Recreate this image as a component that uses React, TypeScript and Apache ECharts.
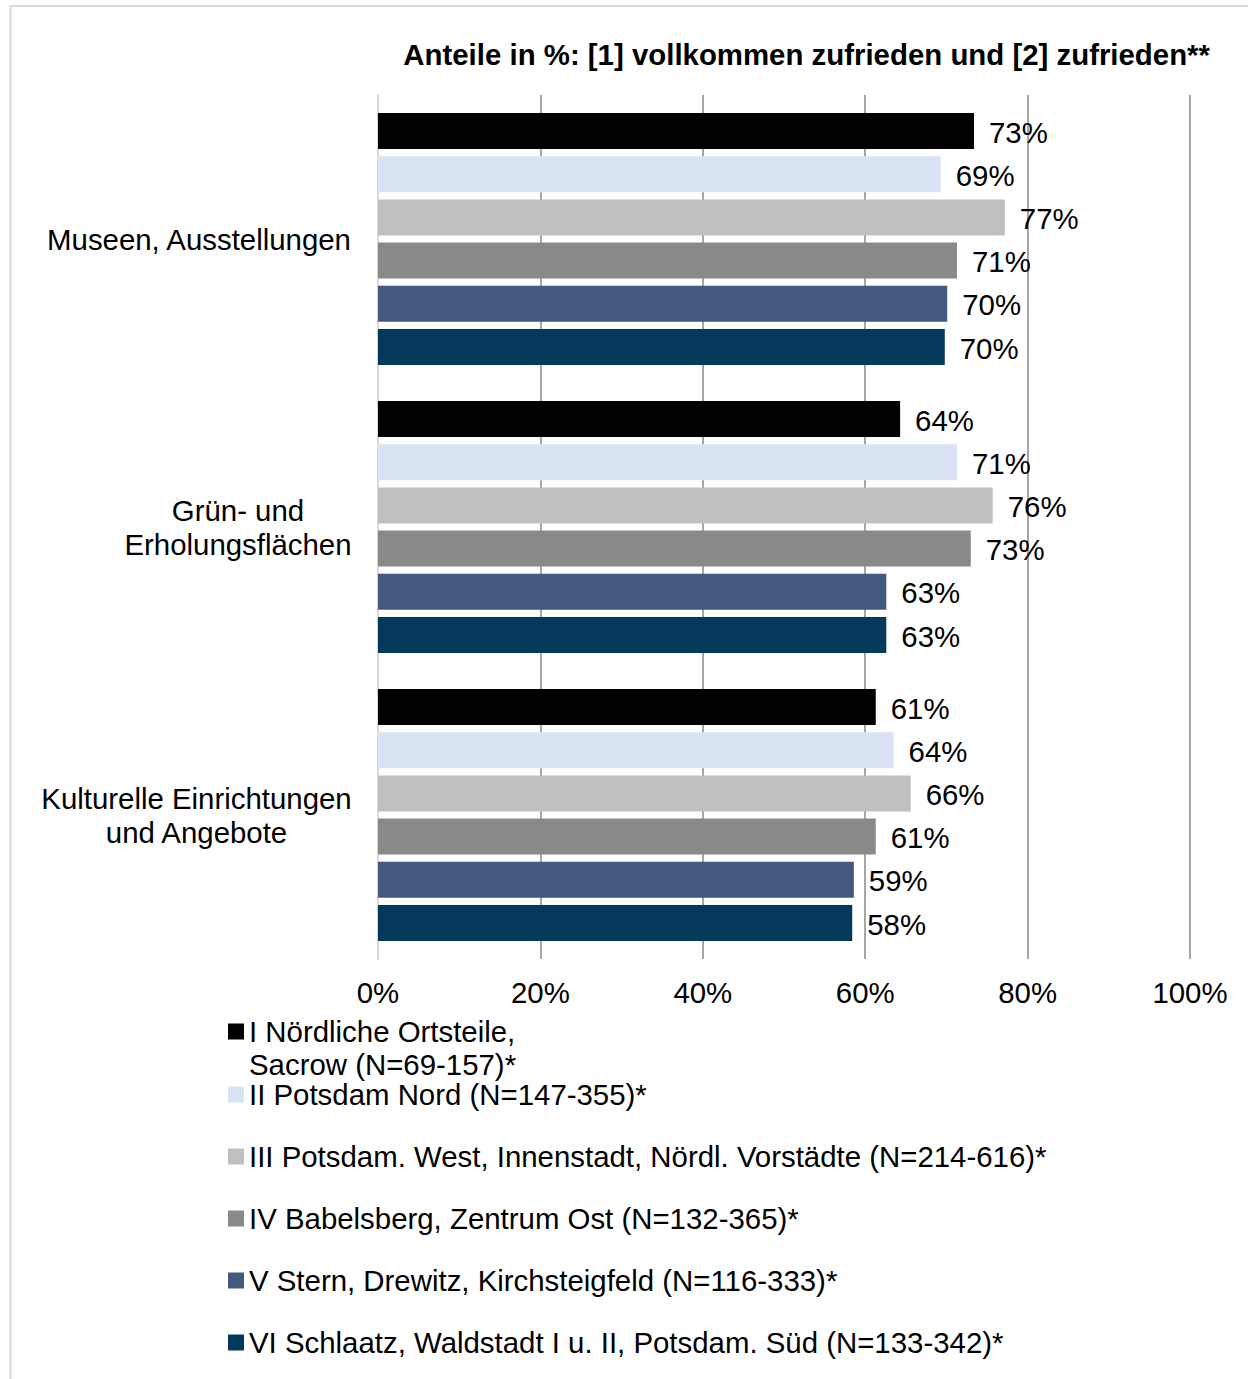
import React, { useEffect, useRef } from "react";
import * as echarts from "echarts";

const categories = ["Museen, Ausstellungen", "Grün- und\nErholungsflächen", "Kulturelle Einrichtungen\nund Angebote"];
const seriesNames = [
  "I Nördliche Ortsteile, Sacrow (N=69-157)*",
  "II Potsdam Nord (N=147-355)*",
  "III Potsdam. West, Innenstadt, Nördl. Vorstädte (N=214-616)*",
  "IV Babelsberg, Zentrum Ost (N=132-365)*",
  "V Stern, Drewitz, Kirchsteigfeld (N=116-333)*",
  "VI Schlaatz, Waldstadt I u. II, Potsdam. Süd (N=133-342)*",
];
const s1 = [73.4, 64.3, 61.3];
const s2 = [69.3, 71.3, 63.5];
const s3 = [77.2, 75.7, 65.6];
const s4 = [71.3, 73.0, 61.3];
const s5 = [70.1, 62.6, 58.6];
const s6 = [69.8, 62.6, 58.4];
const seriesValues = [s1, s2, s3, s4, s5, s6];
const colors = ["#000000", "#dae3f3", "#bfbfbf", "#898989", "#44597f", "#03395a"];
const title = "Anteile in %: [1] vollkommen zufrieden und [2] zufrieden**";
const firstLegendLine1 = "I Nördliche Ortsteile,";
const firstLegendLine2 = "Sacrow (N=69-157)*";

const FONT = '"Liberation Sans", Arial, Helvetica, sans-serif';
const FS = 29.4;

function measure(text: string): number {
  const c = document.createElement("canvas");
  const ctx = c.getContext("2d");
  if (!ctx) return text.length * FS * 0.5;
  ctx.font = `${FS}px ${FONT}`;
  return ctx.measureText(text).width;
}

export default function App() {
  const ref = useRef<HTMLDivElement>(null);
  useEffect(() => {
    if (!ref.current) return;
    const chart = echarts.init(ref.current, undefined, { renderer: "svg" });

    const rich: Record<string, any> = {};
    categories.forEach((c, i) => {
      const w = Math.ceil(Math.max(...c.split("\n").map(measure)));
      rich["c" + i] = { width: w, align: "center", fontSize: FS, fontFamily: FONT, color: "#000", lineHeight: 34 };
    });

    const legendCenters = [1031, 1094, 1156, 1218, 1280, 1342];
    const legends = seriesNames.map((n, i) => ({
      show: true,
      orient: "vertical",
      left: 228,
      top: legendCenters[i] - 14,
      padding: 0,
      itemWidth: 16,
      itemHeight: 16,
      icon: "rect",
      selectedMode: false,
      data: [n],
      formatter: (name: string) => (i === 0 ? firstLegendLine1 : name),
      textStyle: { fontSize: FS, fontFamily: FONT, color: "#000", lineHeight: 28 },
    }));

    chart.setOption({
      animation: false,
      backgroundColor: "#fff",
      color: colors,
      title: {
        text: title,
        right: 38,
        top: 40,
        padding: 0,
        textStyle: { fontSize: FS, fontWeight: "bold", fontFamily: FONT, color: "#000" },
      },
      grid: { left: 378, right: 58, top: 95, height: 864, containLabel: false },
      xAxis: {
        type: "value",
        min: 0,
        max: 100,
        interval: 20,
        axisLine: { show: false },
        axisTick: { show: false },
        axisLabel: { formatter: "{value}%", fontSize: FS, fontFamily: FONT, color: "#000", margin: 19 },
        splitLine: { show: true, showMinLine: false, lineStyle: { color: "#a6a6a6", width: 2 } },
      },
      yAxis: {
        type: "category",
        inverse: true,
        data: categories,
        axisLine: { show: true, lineStyle: { color: "#d9d9d9", width: 2 } },
        axisTick: { show: false },
        axisLabel: {
          margin: 26,
          formatter: (v: string) => {
            const idx = categories.indexOf(v);
            return v.split("\n").map((l) => `{c${idx}|${l}}`).join("\n");
          },
          rich,
        },
      },
      legend: legends,
      series: seriesNames.map((n, i) => ({
        name: n,
        type: "bar",
        data: seriesValues[i],
        barWidth: 36,
        barGap: "20%",
        itemStyle: { color: colors[i] },
        label: {
          show: true,
          position: "right",
          distance: 15,
          offset: [0, 1],
          formatter: (p: any) => `${Math.round(p.value)}%`,
          fontSize: FS,
          fontFamily: FONT,
          color: "#000",
        },
      })),
      graphic: [
        {
          type: "rect",
          shape: { x: 10.5, y: 6, width: 1300, height: 1450 },
          style: { fill: "none", stroke: "#d9d9d9", lineWidth: 2 },
          silent: true,
        },
        {
          type: "text",
          x: 249,
          y: 1064,
          style: {
            text: firstLegendLine2,
            fontSize: FS,
            fontFamily: FONT,
            fill: "#000",
            verticalAlign: "middle",
            align: "left",
            lineHeight: 28,
          },
        },
      ],
    });
    return () => chart.dispose();
  }, []);
  return <div ref={ref} style={{ position: "fixed", left: 0, top: 0, width: 1248, height: 1379 }} />;
}
